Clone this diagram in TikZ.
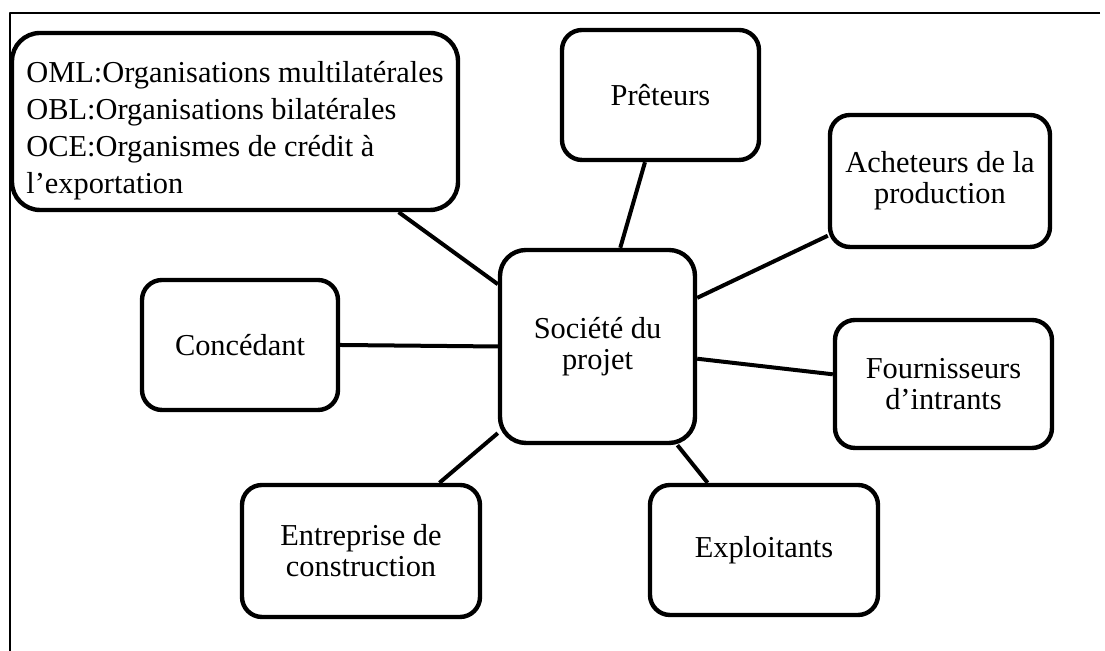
\documentclass[tikz,border=0pt]{standalone}
\usepackage{fontspec}
\setmainfont{Liberation Serif}
\begin{document}
\begin{tikzpicture}[x=0.5pt, y=0.5pt, font=\fontsize{15.2}{15.5}\selectfont, line join=round,
box/.style={draw, line width=2.2pt, rounded corners=10pt, align=center, inner sep=0pt}]
\def\lw{2pt}
\useasboundingbox (0,0) rectangle (1105,651);
\draw[line width=0.7pt] (1100,638)--(10,638)--(10,0);
% central box
\node[box, minimum width=97.5pt, minimum height=96.5pt, rounded corners=13pt] (soc) at (597.5,304.5) {Société du\\projet};
% partners
\node[box, minimum width=223pt, minimum height=88.5pt, rounded corners=14pt, align=left,
font=\fontsize{15.2}{18.5}\selectfont] (oml) at (235,529.5)
{\rule{0pt}{20pt}OML:Organisations multilatérales\\OBL:Organisations bilatérales\\OCE:Organismes de crédit à\\l’exportation};
\node[box, minimum width=98.5pt, minimum height=65pt] (pret) at (660.5,556) {Prêteurs};
\node[box, minimum width=110pt, minimum height=66pt] (achet) at (940,470) {Acheteurs de la\\production};
\node[box, minimum width=108.5pt, minimum height=64pt] (fourn) at (943.5,267) {Fournisseurs\\d’intrants};
\node[box, minimum width=114pt, minimum height=65pt] (expl) at (764,101) {Exploitants};
\node[box, minimum width=119pt, minimum height=66pt] (entr) at (361,100) {Entreprise de\\construction};
\node[box, minimum width=98pt, minimum height=65pt] (conc) at (240,306) {Concédant};
% links
\draw[line width=\lw] (oml.-29)--(soc.148) (pret.257)--(soc.77) (achet.206)--(soc.26)
(fourn.175)--(soc.-7) (expl.130)--(soc.-51) (entr.41)--(soc.221) (conc.east)--(soc.west);
\end{tikzpicture}
\end{document}
